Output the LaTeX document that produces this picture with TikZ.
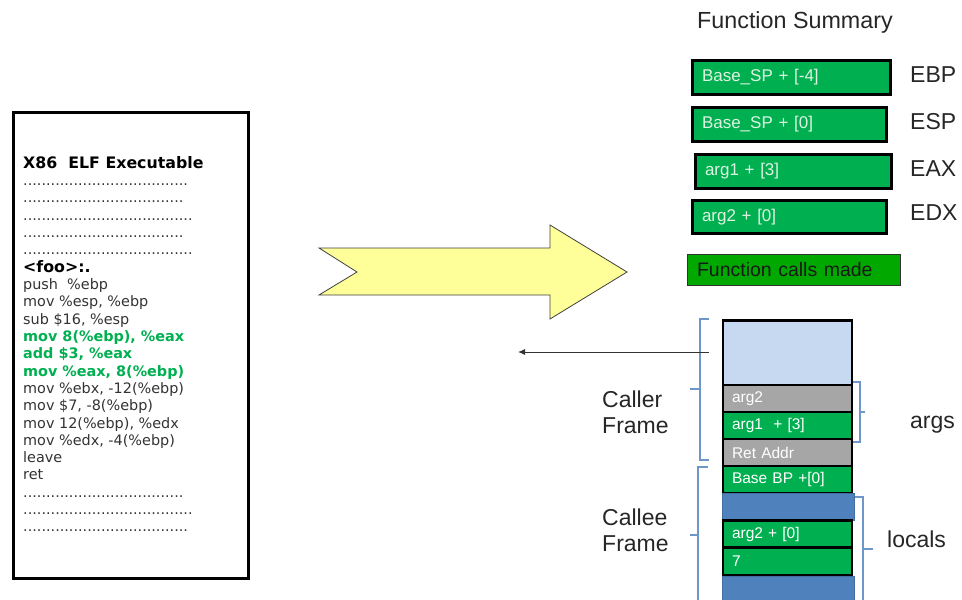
\documentclass[tikz,border=0pt]{standalone}
\usepackage{fontspec}
\setmainfont{Liberation Sans}
\newfontfamily\codefont{DejaVu Sans}
\usetikzlibrary{arrows.meta}
\definecolor{grn}{HTML}{00B050}
\definecolor{grnB}{HTML}{00A800}
\definecolor{codegray}{HTML}{333333}
\definecolor{paletxt}{HTML}{DDF3E2}
\definecolor{gry}{HTML}{A6A6A6}
\definecolor{lblue}{HTML}{C6D9F1}
\definecolor{dblue}{HTML}{4F81BD}
\definecolor{brc}{HTML}{6F96C8}
\definecolor{yel}{HTML}{FFFF99}
\newcommand{\dotrow}[1]{\foreach \k in {1,...,#1}{.}}
\begin{document}
\begin{tikzpicture}[x=1pt,y=-1pt,
  code/.style={anchor=base west, inner sep=0pt, font=\codefont\fontsize{14.4}{17}\selectfont, text=codegray},
  codeg/.style={code, font=\codefont\bfseries\fontsize{14.4}{17}\selectfont, text=grn},
  codeh/.style={code, font=\codefont\bfseries\fontsize{15.8}{17}\selectfont, text=black},
  sumbox/.style={draw=black, line width=3pt, fill=grn, inner xsep=9.5pt, inner ysep=0pt, align=left, text=paletxt, font=\fontsize{17}{20}\selectfont, minimum height=34pt},
  cell/.style={draw=black, line width=2.2pt, inner xsep=9pt, inner ysep=0pt, text width=111pt, align=left, text=white, font=\fontsize{15.5}{18}\selectfont, minimum height=27pt},
  reglbl/.style={anchor=base west, inner sep=0pt, font=\fontsize{23}{26}\selectfont, text=black!85},
  framelbl/.style={anchor=west, inner sep=0pt, align=left, font=\fontsize{23}{26}\selectfont, text=black!85},
  brace/.style={draw=brc, line width=1.2pt},
]
\useasboundingbox (0,0) rectangle (962,600);

% ---------- executable box ----------
\node[draw=black, line width=3pt, minimum width=235pt, minimum height=466pt, anchor=north west, inner sep=0pt] (exe) at (11.5,110.5) {};
\node[codeh] (c0) at (23,168) {X86\ \ ELF Executable};
\node[code] (c1) at (23,185.3) {\dotrow{36}};
\node[code] (c2) at (23,202.7) {\dotrow{35}};
\node[code] (c3) at (23,220.0) {\dotrow{37}};
\node[code] (c4) at (23,237.3) {\dotrow{35}};
\node[code] (c5) at (23,254.7) {\dotrow{37}};
\node[codeh] (c6) at (23,272.0) {<foo>:.};
\node[code] (c7) at (23,289.3) {push\ \ \%ebp};
\node[code] (c8) at (23,306.6) {mov \%esp, \%ebp};
\node[code] (c9) at (23,324.0) {sub \$16, \%esp};
\node[codeg] (c10) at (23,341.3) {mov 8(\%ebp), \%eax};
\node[codeg] (c11) at (23,358.6) {add \$3, \%eax};
\node[codeg] (c12) at (23,376.0) {mov \%eax, 8(\%ebp)};
\node[code] (c13) at (23,393.3) {mov \%ebx, -12(\%ebp)};
\node[code] (c14) at (23,410.6) {mov \$7, -8(\%ebp)};
\node[code] (c15) at (23,428.0) {mov 12(\%ebp), \%edx};
\node[code] (c16) at (23,445.3) {mov \%edx, -4(\%ebp)};
\node[code] (c17) at (23,462.6) {leave};
\node[code] (c18) at (23,479.9) {ret};
\node[code] (c19) at (23,497.3) {\dotrow{35}};
\node[code] (c20) at (23,514.6) {\dotrow{37}};
\node[code] (c21) at (23,531.9) {\dotrow{36}};

% ---------- big yellow arrow ----------
\draw[fill=yel, draw=black!75, line width=0.8pt]
  (319,248) -- (550,248) -- (550,225) -- (627,272) -- (550,319) -- (550,295) -- (319,295) -- (357,272) -- cycle;

% ---------- function summary ----------
\node[anchor=base west, inner sep=0pt, font=\fontsize{23.3}{26}\selectfont, text=black!85] (fs) at (697,28) {Function Summary};
\node[sumbox, text width=179pt] (sEBP) at (791.5,77.5) {Base\_SP + [-4]};
\node[sumbox, text width=175pt] (sESP) at (789.5,124.5) {Base\_SP + [0]};
\node[sumbox, text width=177pt] (sEAX) at (793.5,171.5) {arg1 + [3]};
\node[sumbox, text width=175pt, minimum height=33pt] (sEDX) at (789.5,217) {arg2 + [0]};
\node[reglbl] (lEBP) at (910,82) {EBP};
\node[reglbl] (lESP) at (910,129) {ESP};
\node[reglbl] (lEAX) at (910,176) {EAX};
\node[reglbl] (lEDX) at (910,220) {EDX};
\node[draw=black!80, line width=1pt, fill=grnB, inner xsep=9.5pt, inner ysep=0pt, text width=194pt, align=left, minimum height=31pt, font=\fontsize{19.5}{22}\selectfont, text=black!90] (calls) at (794,270) {Function calls made};

% ---------- stack ----------
\node[draw=black, line width=2.2pt, fill=lblue, minimum width=129pt, minimum height=64.5pt, inner sep=0pt] (top) at (787.5,352.75) {};
\node[cell, fill=gry] (sArg2) at (787.5,398.5) {arg2};
\node[cell, fill=grn] (sArg1) at (787.5,425.5) {arg1\ \ + [3]};
\node[cell, fill=gry] (sRet) at (787.5,452.5) {Ret Addr};
\node[cell, fill=grn] (sBase) at (787.5,479.5) {Base BP +[0]};
\node[draw=dblue!85!black, line width=0.6pt, fill=dblue, minimum width=132pt, minimum height=27pt, inner sep=0pt] (blue1) at (788.5,506.5) {};
\node[draw=dblue!85!black, line width=0.6pt, fill=dblue, minimum width=132pt, minimum height=32pt, inner sep=0pt] (blue2) at (788.5,592) {};
\node[cell, fill=grn] (sLoc2) at (787.5,534) {arg2 + [0]};
\node[cell, fill=grn] (sLoc7) at (787.5,561.25) {7};

% ---------- braces ----------
\draw[brace] (709,319) -- (700,319) -- (700,460) -- (709,460);
\draw[brace] (700,389) -- (690,389);
\draw[brace] (708,467) -- (698,467) -- (698,605);
\draw[brace] (698,535) -- (690,535);
\draw[brace] (853,382) -- (860,382) -- (860,442) -- (853,442);
\draw[brace] (860,412) -- (865,412);
\draw[brace] (855,497) -- (863,497) -- (863,605);
\draw[brace] (863,549) -- (873,549);

\node[framelbl] (caller) at (602,412) {Caller\\Frame};
\node[framelbl] (callee) at (602,530) {Callee\\Frame};
\node[reglbl] (args) at (910,428) {args};
\node[reglbl] (locals) at (887,547) {locals};

% ---------- pointer arrow ----------
\coordinate (ptrS) at (709,352);
\coordinate (ptrE) at (518,352);
\draw[draw=black!80, line width=0.9pt, -{Latex[length=7pt,width=6pt]}] (ptrS) -- (ptrE);
\end{tikzpicture}
\end{document}
